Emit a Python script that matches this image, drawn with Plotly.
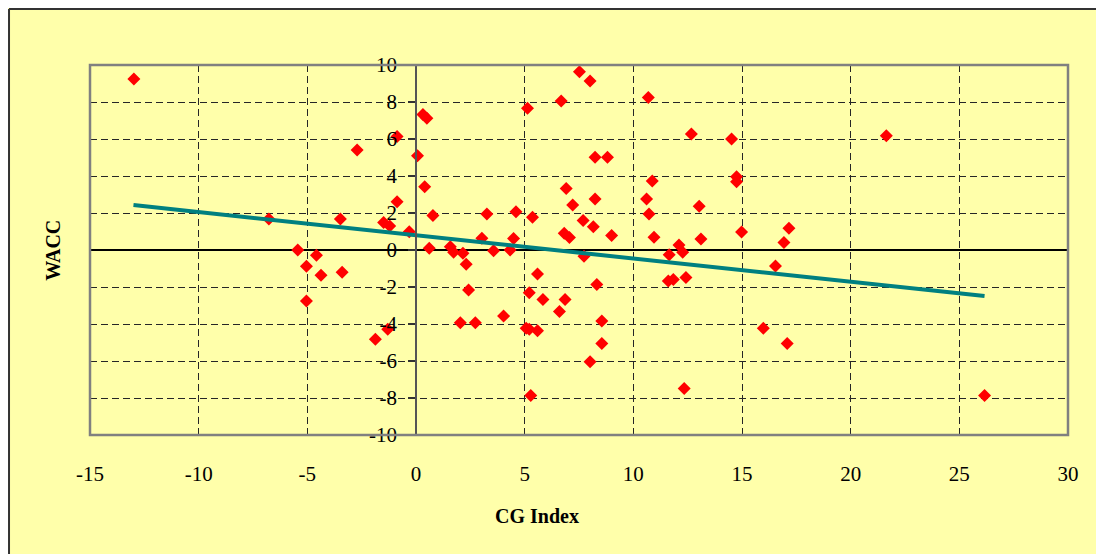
import plotly.graph_objects as go

# CG Index (x) and WACC (y) values
cg_index = [
    -12.98, -6.77, -5.44, -4.58, -5.04, -4.37, -5.04, -3.48, -3.40, -2.71,
    -1.49, -1.21, -0.87, -0.87, -0.31, -1.87, -1.30, 0.07, 0.32, 0.50,
    0.40, 0.78, 0.61, 1.58, 1.73, 2.16, 2.31, 2.42, 2.04, 2.73,
    3.03, 3.26, 3.57, 4.33, 4.49, 4.60, 4.03, 5.13, 5.36, 5.21,
    5.59, 5.84, 5.07, 5.21, 5.59, 5.28, 6.60, 6.86, 6.68, 6.91,
    6.82, 7.06, 7.21, 7.52, 7.69, 8.01, 8.16, 8.24, 8.81, 8.24,
    9.00, 7.73, 8.32, 8.55, 8.55, 8.01, 10.69, 10.87, 10.61, 10.72,
    10.95, 12.10, 12.27, 11.65, 11.61, 11.84, 12.42, 12.34, 12.67, 13.03,
    13.11, 14.52, 14.75, 14.75, 14.98, 15.98, 16.54, 16.93, 17.16, 17.08,
    21.64, 26.16,
]
wacc = [
    9.24, 1.68, 0.00, -0.28, -0.88, -1.37, -2.76, 1.68, -1.20, 5.41,
    1.48, 1.30, 6.13, 2.61, 0.99, -4.83, -4.29, 5.10, 7.33, 7.12,
    3.42, 1.86, 0.10, 0.18, -0.12, -0.18, -0.77, -2.16, -3.93, -3.93,
    0.63, 1.95, -0.04, 0.00, 0.62, 2.07, -3.57, 7.66, 1.77, -2.31,
    -1.30, -2.67, -4.23, -4.29, -4.36, -7.87, -3.33, -2.67, 8.05, 3.33,
    0.90, 0.67, 2.43, 9.64, 1.59, 9.14, 1.26, 5.01, 5.01, 2.76,
    0.78, -0.34, -1.86, -3.84, -5.05, -6.04, 8.25, 3.73, 2.76, 1.95,
    0.69, 0.27, -0.12, -0.25, -1.68, -1.59, -1.48, -7.48, 6.27, 2.36,
    0.59, 6.00, 3.96, 3.69, 0.97, -4.23, -0.86, 0.40, 1.17, -5.05,
    6.18, -7.87,
]

# Linear trendline endpoints
trend_x = [-13.0, 26.16]
trend_y = [2.43, -2.49]

x_ticks = [-15, -10, -5, 0, 5, 10, 15, 20, 25, 30]
y_ticks = [-10, -8, -6, -4, -2, 0, 2, 4, 6, 8, 10]

BG = "#FFFFAA"
FONT = "Liberation Serif, Times New Roman, serif"

fig = go.Figure()
fig.add_trace(go.Scatter(
    x=cg_index, y=wacc, mode="markers",
    marker=dict(symbol="diamond", size=10, color="#FF0000", line=dict(width=0)),
    showlegend=False,
))
fig.add_trace(go.Scatter(
    x=trend_x, y=trend_y, mode="lines",
    line=dict(color="#008080", width=4),
    showlegend=False,
))

grid_kw = dict(showgrid=True, gridcolor="#262626", gridwidth=1.3, griddash="7px,4px")

# page body adds an 8px offset; margins compensate so the plot area sits at 90..1068 x 65..435
fig.update_layout(
    width=1104, height=554,
    paper_bgcolor=BG, plot_bgcolor=BG,
    margin=dict(l=82, r=44, t=57, b=127),
    font=dict(family=FONT, size=21, color="#000000"),
    xaxis=dict(
        range=[-15, 30], tickvals=x_ticks, ticktext=[str(v) for v in x_ticks],
        zeroline=False, showline=False, ticks="",
        ticklabelstandoff=24,
        tickfont=dict(family=FONT, size=21),
        **grid_kw,
    ),
    yaxis=dict(
        range=[-10, 10], tickvals=y_ticks, ticktext=[str(v) for v in y_ticks],
        anchor="free", position=1/3,
        showline=True, linecolor="#555555", linewidth=1.5,
        ticks="outside", ticklen=7, tickcolor="#333333", tickwidth=1.5,
        ticklabelstandoff=7,
        zeroline=True, zerolinecolor="#000000", zerolinewidth=1.5,
        tickfont=dict(family=FONT, size=21),
        **grid_kw,
    ),
    shapes=[
        # plot area border
        dict(type="rect", xref="paper", yref="paper", x0=0, y0=0, x1=1, y1=1,
             line=dict(color="#808080", width=2.5), layer="above"),
        # outer chart border (left and top edges visible)
        dict(type="line", xref="paper", yref="paper",
             x0=-0.0828, y0=1.1514, x1=1.06, y1=1.1514,
             line=dict(color="#333333", width=2)),
        dict(type="line", xref="paper", yref="paper",
             x0=-0.0828, y0=1.1514, x1=-0.0828, y1=-0.36,
             line=dict(color="#333333", width=2)),
    ],
    annotations=[
        dict(text="<b>WACC</b>", xref="paper", yref="paper",
             x=-0.038, y=0.5, textangle=-90, showarrow=False,
             font=dict(family=FONT, size=20), xanchor="center", yanchor="middle"),
        dict(text="<b>CG Index</b>", xref="paper", yref="paper",
             x=0.457, y=-0.219, showarrow=False,
             font=dict(family=FONT, size=20), xanchor="center", yanchor="middle"),
    ],
)

fig.write_html("out.html")
